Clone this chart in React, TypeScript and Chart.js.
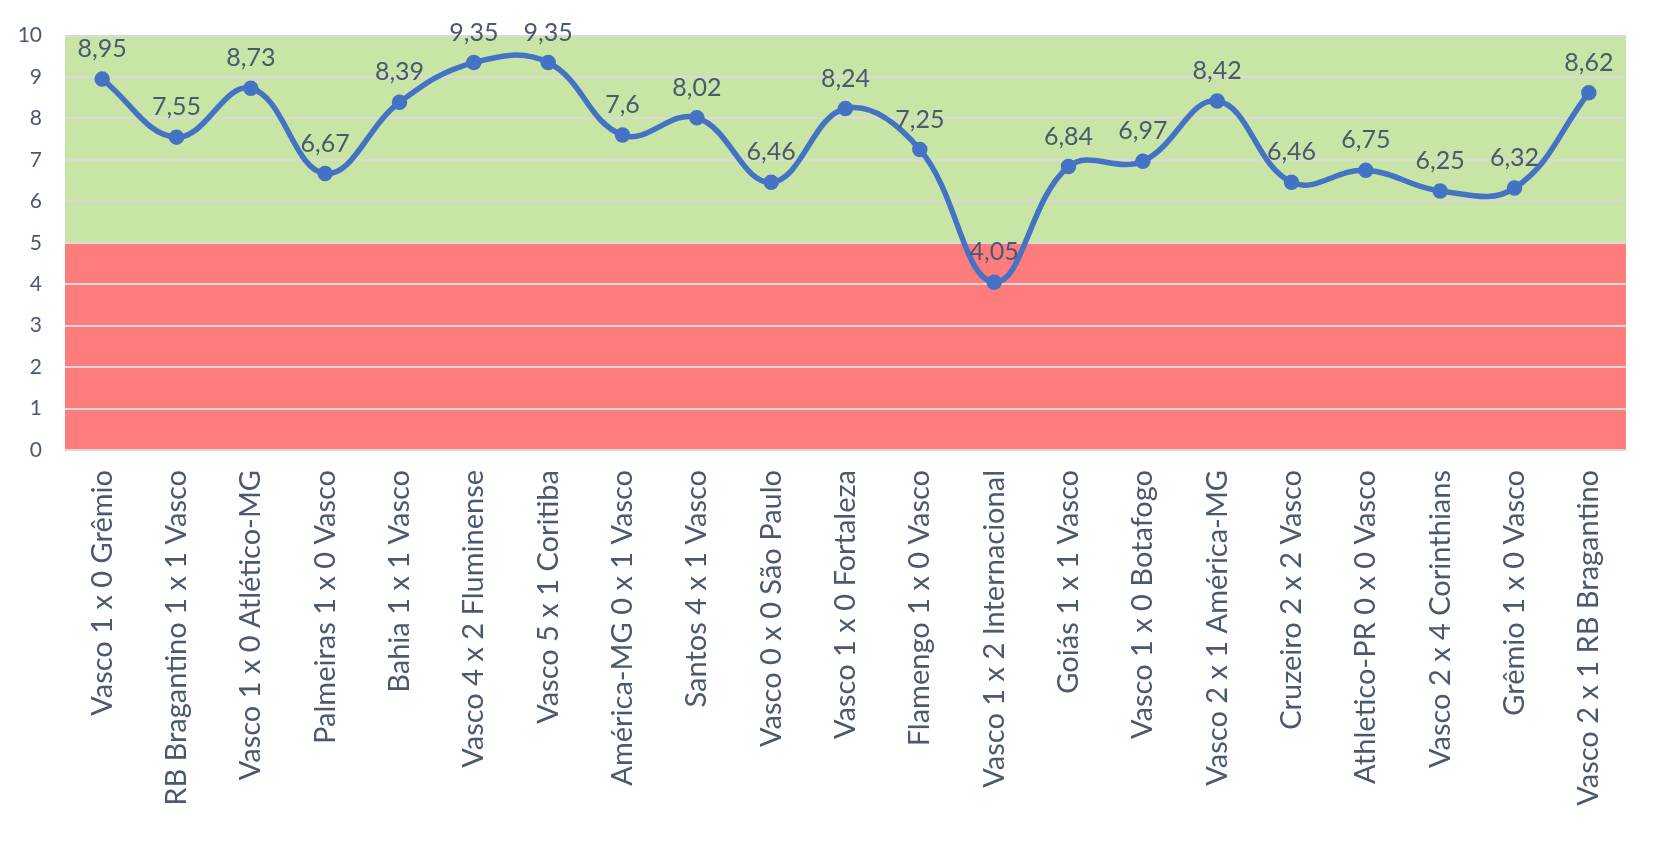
import React, { useEffect, useRef } from "react";
import { Chart, registerables } from "chart.js";

Chart.register(...registerables);

const categories: string[] = [
  "Vasco 1 x 0 Grêmio",
  "RB Bragantino 1 x 1 Vasco",
  "Vasco 1 x 0 Atlético-MG",
  "Palmeiras 1 x 0 Vasco",
  "Bahia 1 x 1 Vasco",
  "Vasco 4 x 2 Fluminense",
  "Vasco 5 x 1 Coritiba",
  "América-MG 0 x 1 Vasco",
  "Santos 4 x 1 Vasco",
  "Vasco 0 x 0 São Paulo",
  "Vasco 1 x 0 Fortaleza",
  "Flamengo 1 x 0 Vasco",
  "Vasco 1 x 2 Internacional",
  "Goiás 1 x 1 Vasco",
  "Vasco 1 x 0 Botafogo",
  "Vasco 2 x 1 América-MG",
  "Cruzeiro 2 x 2 Vasco",
  "Athletico-PR 0 x 0 Vasco",
  "Vasco 2 x 4 Corinthians",
  "Grêmio 1 x 0 Vasco",
  "Vasco 2 x 1 RB Bragantino",
];

const ratings: number[] = [
  8.95, 7.55, 8.73, 6.67, 8.39, 9.35, 9.35, 7.6, 8.02, 6.46, 8.24, 7.25, 4.05,
  6.84, 6.97, 8.42, 6.46, 6.75, 6.25, 6.32, 8.62,
];

const bands: { from: number; to: number; color: string }[] = [
  { from: 5, to: 10, color: "#C9E5A6" },
  { from: 0, to: 5, color: "#FF7C7C" },
];

const TEXT = "#4A5870";
const FONT = "Lato, 'Open Sans', sans-serif";

const bandPlugin = {
  id: "bands",
  beforeDraw(chart: any) {
    const { ctx, chartArea, scales } = chart;
    const y = scales.y;
    ctx.save();
    for (const b of bands) {
      const top = y.getPixelForValue(b.to);
      const bottom = y.getPixelForValue(b.from);
      ctx.fillStyle = b.color;
      ctx.fillRect(chartArea.left, top, chartArea.right - chartArea.left, bottom - top);
    }
    ctx.restore();
  },
};

const labelPlugin = {
  id: "valueLabels",
  afterDatasetsDraw(chart: any) {
    const { ctx } = chart;
    const meta = chart.getDatasetMeta(0);
    const data = chart.data.datasets[0].data as number[];
    ctx.save();
    ctx.font = `25px ${FONT}`;
    ctx.fillStyle = TEXT;
    ctx.textAlign = "center";
    ctx.textBaseline = "middle";
    meta.data.forEach((pt: any, i: number) => {
      ctx.fillText(String(data[i]).replace(".", ","), pt.x, pt.y - 30);
    });
    ctx.restore();
  },
};

export default function App() {
  const canvasRef = useRef<HTMLCanvasElement | null>(null);

  useEffect(() => {
    document.body.style.margin = "0";
    const canvas = canvasRef.current;
    if (!canvas) return;
    const chart = new Chart(canvas, {
      type: "line",
      data: {
        labels: categories,
        datasets: [
          {
            data: ratings,
            borderColor: "#4472C4",
            backgroundColor: "#4472C4",
            borderWidth: 5.5,
            pointRadius: 5,
            pointHoverRadius: 5,
            tension: 0.4,
            fill: false,
          },
        ],
      },
      options: {
        animation: false,
        responsive: false,
        maintainAspectRatio: false,
        layout: { padding: { top: 22, right: 33, left: 0, bottom: 0 } },
        plugins: {
          legend: { display: false },
          tooltip: { enabled: false },
        },
        scales: {
          x: {
            offset: true,
            grid: { display: false, drawTicks: false },
            border: { display: false },
            ticks: {
              autoSkip: false,
              maxRotation: 90,
              minRotation: 90,
              padding: 20,
              color: TEXT,
              font: { family: FONT, size: 29 },
            },
            afterFit(scale: any) {
              scale.height = 391;
            },
          },
          y: {
            min: 0,
            max: 10,
            ticks: {
              stepSize: 1,
              padding: 23,
              color: TEXT,
              font: { family: FONT, size: 21 },
            },
            grid: { color: "#D9D9D9", lineWidth: 2, drawTicks: false },
            border: { display: false },
            afterFit(scale: any) {
              scale.width = 65;
            },
          },
        },
      },
      plugins: [bandPlugin, labelPlugin],
    });
    return () => chart.destroy();
  }, []);

  return <canvas ref={canvasRef} width={1659} height={841} style={{ display: "block" }} />;
}
